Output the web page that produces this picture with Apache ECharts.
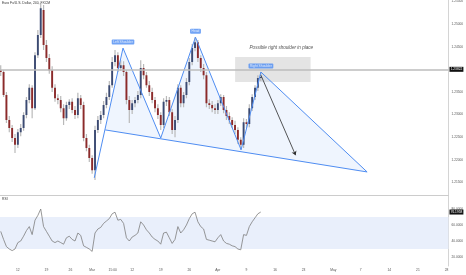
<!DOCTYPE html>
<html><head><meta charset="utf-8">
<script src="https://cdn.jsdelivr.net/npm/echarts@6/dist/echarts.min.js"></script>
<style>html,body{margin:0;padding:0;background:#fff}#c{width:466px;height:275px}</style>
</head><body><div id="c"></div>
<script>
// time axis: trading days since Mon Feb 12 (half-day candles)
const times = Array.from({length: 92}, (_, k) => -3 + 0.5 * k);
const opens = [1.2398,1.2394,1.2343,1.2288,1.2270,1.2248,1.2233,1.2261,1.2270,1.2299,
1.2332,1.2359,1.2314,1.2431,1.2476,1.2531,1.2454,1.2425,1.2398,1.2359,
1.2336,1.2332,1.2314,1.2292,1.2321,1.2328,1.2310,1.2299,1.2336,1.2321,
1.2248,1.2226,1.2204,1.2177,1.2266,1.2288,1.2299,1.2321,1.2339,1.2365,
1.2416,1.2431,1.2403,1.2409,1.2394,1.2332,1.2310,1.2325,1.2332,1.2343,
1.2403,1.2387,1.2365,1.2350,1.2332,1.2314,1.2299,1.2277,1.2328,1.2332,
1.2305,1.2266,1.2288,1.2359,1.2325,1.2343,1.2372,1.2416,1.2447,1.2460,
1.2425,1.2403,1.2387,1.2325,1.2321,1.2314,1.2310,1.2325,1.2339,1.2310,
1.2297,1.2288,1.2277,1.2266,1.2244,1.2233,1.2283,1.2279,1.2314,1.2339,
1.2359,1.2381];
const closes = [1.2394,1.2343,1.2288,1.2270,1.2248,1.2233,1.2261,1.2270,1.2299,1.2332,
1.2359,1.2314,1.2431,1.2476,1.2535,1.2454,1.2425,1.2398,1.2359,1.2336,
1.2332,1.2314,1.2292,1.2321,1.2328,1.2310,1.2299,1.2336,1.2321,1.2248,
1.2226,1.2204,1.2177,1.2266,1.2288,1.2299,1.2321,1.2339,1.2365,1.2416,
1.2431,1.2403,1.2409,1.2394,1.2332,1.2310,1.2325,1.2332,1.2343,1.2403,
1.2387,1.2365,1.2350,1.2332,1.2314,1.2299,1.2277,1.2328,1.2332,1.2305,
1.2266,1.2288,1.2359,1.2325,1.2343,1.2372,1.2416,1.2447,1.2460,1.2425,
1.2403,1.2387,1.2325,1.2321,1.2314,1.2310,1.2325,1.2339,1.2310,1.2297,
1.2288,1.2277,1.2266,1.2244,1.2233,1.2283,1.2279,1.2314,1.2339,1.2359,
1.2381,1.2383];
const highs = [1.2409,1.2398,1.2350,1.2297,1.2277,1.2257,1.2268,1.2279,1.2305,1.2339,
1.2367,1.2365,1.2438,1.2487,1.2546,1.2542,1.2465,1.2434,1.2407,1.2367,
1.2345,1.2341,1.2323,1.2328,1.2334,1.2336,1.2319,1.2348,1.2343,1.2328,
1.2257,1.2233,1.2210,1.2275,1.2297,1.2308,1.2330,1.2348,1.2374,1.2427,
1.2443,1.2438,1.2420,1.2418,1.2398,1.2341,1.2332,1.2339,1.2352,1.2420,
1.2412,1.2394,1.2374,1.2359,1.2339,1.2323,1.2305,1.2336,1.2341,1.2339,
1.2312,1.2297,1.2367,1.2365,1.2350,1.2381,1.2425,1.2456,1.2471,1.2465,
1.2431,1.2412,1.2394,1.2334,1.2330,1.2323,1.2332,1.2345,1.2343,1.2319,
1.2305,1.2294,1.2286,1.2272,1.2250,1.2292,1.2290,1.2323,1.2345,1.2365,
1.2387,1.2394];
const lows = [1.2385,1.2339,1.2281,1.2261,1.2239,1.2215,1.2226,1.2252,1.2264,1.2292,
1.2325,1.2292,1.2310,1.2425,1.2469,1.2443,1.2416,1.2390,1.2350,1.2328,
1.2323,1.2305,1.2277,1.2286,1.2312,1.2303,1.2290,1.2292,1.2312,1.2241,
1.2219,1.2195,1.2169,1.2155,1.2259,1.2279,1.2292,1.2314,1.2332,1.2359,
1.2407,1.2394,1.2396,1.2385,1.2323,1.2281,1.2301,1.2316,1.2325,1.2336,
1.2378,1.2359,1.2341,1.2325,1.2305,1.2290,1.2266,1.2270,1.2319,1.2297,
1.2257,1.2250,1.2281,1.2316,1.2316,1.2336,1.2365,1.2409,1.2440,1.2416,
1.2394,1.2378,1.2316,1.2312,1.2305,1.2301,1.2301,1.2319,1.2303,1.2288,
1.2279,1.2270,1.2257,1.2235,1.2222,1.2226,1.2270,1.2272,1.2308,1.2332,
1.2352,1.2374];
const rsi = [52,42,33,30,28,30,38,40,46,53, 58,48,66,72,80,58,52,46,40,38,
40,38,36,44,46,42,40,50,47,34, 32,30,27,50,55,57,62,65,68,74,
76,66,67,62,44,40,45,47,50,64, 60,54,50,45,42,40,36,50,51,44,
37,42,58,50,54,60,68,74,76,64, 58,55,42,41,40,39,44,48,40,37,
36,34,33,30,29,48,47,58,64,69, 74,76.2];

// head & shoulders pattern: start, left shoulder, trough, head, trough, right shoulder, end
const patternT = [13.37, 18.40, 25.0, 31.08, 39.06, 42.53, 61.11];
const patternP = [1.2160, 1.2447, 1.2248, 1.2471, 1.2222, 1.2394, 1.2173];
const patternNames = ['', 'Left Shoulder', '', 'Head', '', 'Right Shoulder', ''];
const neckT = [15.28, 61.11];
const neckP = [1.2266, 1.2173];
const arrowT = [42.53, 48.6];
const arrowP = [1.2387, 1.2210];
const boxT = [38.02, 51.22];
const boxP = [1.2427, 1.2372];
const noteT = 40.45, noteP = 1.2447, noteText = 'Possible right shoulder in place';
const lastPrice = 1.2383, lastPriceLabel = '1.23822';
const lastRsiLabel = '76.1958';

const priceTicks = [1.215,1.22,1.225,1.23,1.235,1.24,1.245,1.25,1.255];
const rsiTicks = [20,40,60,80];
const timeTicks = [0,5,9.2,13,16.6,20,25,30,35,40,45,50,55.2,60,65,70,75];
const timeLabels = ['12','19','26','Mar','15:00','12','19','26','Apr','9','16','23','May','7','14','21','28'];

const FONT = 'Liberation Sans, Arial, sans-serif';
const BLUE = '#4f8df2';
const chart = echarts.init(document.getElementById('c'), null, {renderer: 'canvas'});

const candleData = times.map((t, i) => [t, opens[i], closes[i], lows[i], highs[i]]);
const polyPts = [[neckT[0], neckP[0]]].concat(patternT.slice(1).map((t, i) => [t, patternP[i + 1]]));

function nearestLabel(v) {
  let best = 0;
  timeTicks.forEach((t, i) => { if (Math.abs(t - v) < Math.abs(timeTicks[best] - v)) best = i; });
  return timeLabels[best];
}

chart.setOption({
  animation: false,
  backgroundColor: '#ffffff',
  textStyle: {fontFamily: FONT},
  title: [
    {text: 'Euro Fx/U.S. Dollar, 240, FXCM', left: 2, top: 2, padding: 0,
      textStyle: {fontSize: 3.4, fontWeight: 'normal', color: '#333', fontFamily: FONT}},
    {text: 'RSI', left: 2, top: 198, padding: 0,
      textStyle: {fontSize: 3.4, fontWeight: 'normal', color: '#333', fontFamily: FONT}}
  ],
  grid: [
    {left: 0, top: 0, width: 452, height: 195},
    {left: 0, top: 195, width: 452, height: 71}
  ],
  xAxis: [
    {gridIndex: 0, type: 'value', min: -3.125, max: 75.35,
      axisLine: {show: true, onZero: false, lineStyle: {color: '#cccccc', width: 1}},
      axisTick: {show: false}, axisLabel: {show: false}, splitLine: {show: false}},
    {gridIndex: 1, type: 'value', min: -3.125, max: 75.35,
      axisLine: {show: false, onZero: false}, axisTick: {show: false}, splitLine: {show: false},
      axisLabel: {customValues: timeTicks, formatter: v => nearestLabel(v),
        fontSize: 3.3, color: '#555', margin: 3, fontFamily: FONT}}
  ],
  yAxis: [
    {gridIndex: 0, type: 'value', position: 'right', min: 1.2122, max: 1.2553, scale: true,
      axisLine: {show: true, onZero: false, lineStyle: {color: '#d4d4d4'}},
      axisTick: {show: false}, splitLine: {show: false},
      axisLabel: {customValues: priceTicks, formatter: v => v.toFixed(5),
        fontSize: 3.2, color: '#555', margin: 3, fontFamily: FONT}},
    {gridIndex: 1, type: 'value', position: 'right', min: 8.75, max: 97.5,
      axisLine: {show: true, onZero: false, lineStyle: {color: '#d4d4d4'}},
      axisTick: {show: false}, splitLine: {show: false},
      axisLabel: {customValues: rsiTicks, formatter: v => v.toFixed(4),
        fontSize: 3.2, color: '#555', margin: 3, fontFamily: FONT}}
  ],
  series: [
    // pattern fill
    {type: 'custom', xAxisIndex: 0, yAxisIndex: 0, z: 1, silent: true,
      data: polyPts,
      renderItem: (params, api) => {
        if (params.dataIndex !== 0) return null;
        return {type: 'polygon', shape: {points: polyPts.map(p => api.coord(p))},
          style: {fill: 'rgba(79,141,242,0.09)'}};
      },
      markArea: {silent: true, itemStyle: {color: 'rgba(120,120,120,0.2)'},
        data: [[{xAxis: boxT[0], yAxis: boxP[0]}, {xAxis: boxT[1], yAxis: boxP[1]}]]}
    },
    // candles
    {type: 'custom', xAxisIndex: 0, yAxisIndex: 0, z: 3, clip: true,
      data: candleData, encode: {x: 0, y: [1, 2, 3, 4]},
      renderItem: (params, api) => {
        const t = api.value(0), o = api.value(1), c = api.value(2), l = api.value(3), h = api.value(4);
        const pO = api.coord([t, o]), pC = api.coord([t, c]), pL = api.coord([t, l]), pH = api.coord([t, h]);
        const w = 1.9;
        const top = Math.min(pO[1], pC[1]);
        const ht = Math.max(Math.abs(pO[1] - pC[1]), 0.8);
        return {type: 'group', children: [
          {type: 'line', shape: {x1: pH[0], y1: pH[1], x2: pL[0], y2: pL[1]},
            style: {stroke: '#b9b9b9', lineWidth: 1.2}},
          {type: 'rect', shape: {x: pO[0] - w / 2, y: top, width: w, height: ht},
            style: {fill: c >= o ? '#3b4a72' : '#8c2a2a'}}
        ]};
      }
    },
    // pattern lines
    {type: 'line', xAxisIndex: 0, yAxisIndex: 0, z: 4, silent: true,
      data: patternT.map((t, i) => [t, patternP[i]]), showSymbol: false, symbol: 'none',
      lineStyle: {color: BLUE, width: 1},
      markLine: {silent: true, animation: false, symbol: ['none', 'none'],
        data: [
          [{coord: [arrowT[0], arrowP[0]], symbol: 'none'},
           {coord: [arrowT[1], arrowP[1]], symbol: 'arrow', symbolSize: 4}]
        ],
        lineStyle: {color: '#2b2b2b', width: 0.8, type: 'solid'},
        label: {show: false}}
    },
    {type: 'line', xAxisIndex: 0, yAxisIndex: 0, z: 4, silent: true,
      data: neckT.map((t, i) => [t, neckP[i]]), showSymbol: false, symbol: 'none',
      lineStyle: {color: BLUE, width: 1},
      markLine: {silent: true, symbol: ['none', 'none'],
        data: [{yAxis: lastPrice}],
        lineStyle: {color: '#bdbdbd', width: 1.6, type: 'solid'},
        label: {show: true, position: 'end', distance: 1, formatter: lastPriceLabel,
          color: '#fff', backgroundColor: '#111', fontSize: 3.2, padding: [1, 1.2], fontFamily: FONT}}
    },
    // pattern labels and note
    {type: 'scatter', xAxisIndex: 0, yAxisIndex: 0, z: 6, silent: true,
      symbolSize: 1, itemStyle: {color: 'rgba(0,0,0,0)'},
      data: patternT.map((t, i) => ({value: [t, patternP[i]], name: patternNames[i]}))
        .filter(d => d.name !== ''),
      label: {show: true, position: 'top', distance: 3, formatter: p => p.name,
        color: '#fff', backgroundColor: BLUE, borderRadius: 1, padding: [1, 1.5],
        fontSize: 3.3, fontFamily: FONT}
    },
    {type: 'scatter', xAxisIndex: 0, yAxisIndex: 0, z: 6, silent: true,
      symbolSize: 1, itemStyle: {color: 'rgba(0,0,0,0)'},
      data: [[noteT, noteP]],
      label: {show: true, position: 'right', distance: 0, formatter: noteText,
        color: '#222', fontSize: 4.6, fontStyle: 'italic', fontFamily: FONT}
    },
    // RSI
    {type: 'line', xAxisIndex: 1, yAxisIndex: 1, z: 3, silent: true,
      data: times.map((t, i) => [t, rsi[i]]), showSymbol: false, symbol: 'none',
      lineStyle: {color: '#7d7d7d', width: 0.8},
      markArea: {silent: true, itemStyle: {color: '#e9effb'},
        data: [[{yAxis: 70}, {yAxis: 30}]]},
      markLine: {silent: true, symbol: ['none', 'none'],
        data: [{yAxis: rsi[rsi.length - 1]}],
        lineStyle: {color: 'rgba(0,0,0,0)', width: 0},
        label: {show: true, position: 'end', distance: 1, formatter: lastRsiLabel,
          color: '#fff', backgroundColor: '#111', fontSize: 3.2, padding: [1, 1.2], fontFamily: FONT}}
    }
  ]
});
</script></body></html>
